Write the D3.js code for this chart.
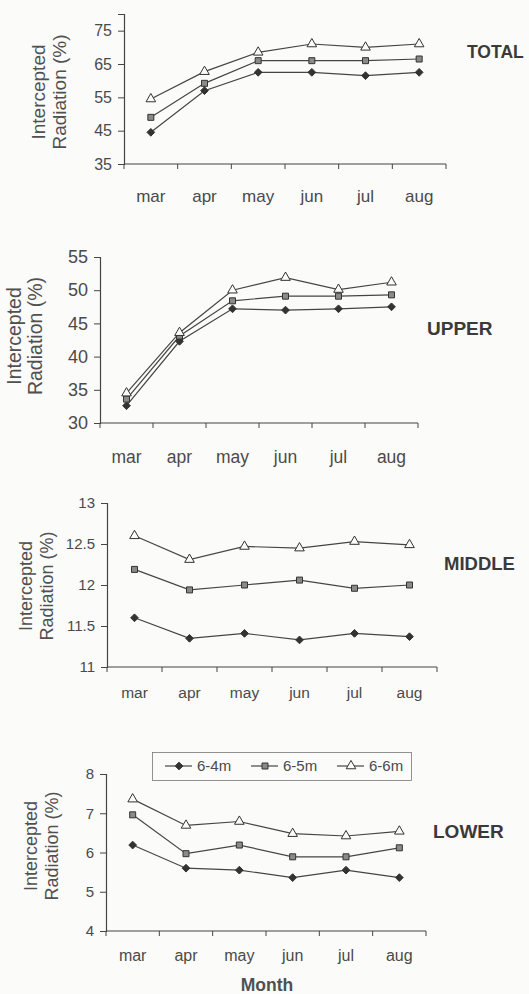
<!DOCTYPE html>
<html>
<head>
<meta charset="utf-8">
<script src="https://cdn.jsdelivr.net/npm/d3@7"></script>
<style>
  html, body { margin: 0; padding: 0; background: #fbfbfa; }
  svg { display: block; font-family: "Liberation Sans", Arial, sans-serif; }
</style>
</head>
<body>
<svg id="chart" width="529" height="994"></svg>
<script>
// ── data ──
const months = ["mar", "apr", "may", "jun", "jul", "aug"];
const seriesNames = ["6-4m", "6-5m", "6-6m"];

const total64 = [44.5, 57.0, 62.5, 62.5, 61.5, 62.5];
const total65 = [49.0, 59.2, 66.0, 66.0, 66.0, 66.5];
const total66 = [54.5, 62.7, 68.5, 71.0, 70.0, 71.0];

const upper64 = [32.6, 42.3, 47.2, 47.0, 47.2, 47.5];
const upper65 = [33.6, 43.1, 48.4, 49.1, 49.1, 49.3];
const upper66 = [34.5, 43.6, 50.0, 51.9, 50.1, 51.2];

const middle64 = [11.60, 11.35, 11.41, 11.33, 11.41, 11.37];
const middle65 = [12.19, 11.94, 12.00, 12.06, 11.96, 12.00];
const middle66 = [12.60, 12.31, 12.47, 12.45, 12.53, 12.49];

const lower64 = [6.19, 5.60, 5.55, 5.36, 5.55, 5.36];
const lower65 = [6.96, 5.97, 6.19, 5.89, 5.89, 6.12];
const lower66 = [7.36, 6.69, 6.79, 6.48, 6.42, 6.54];

const totalTicks  = [35, 45, 55, 65, 75];
const upperTicks  = [30, 35, 40, 45, 50, 55];
const middleTicks = [11, 11.5, 12, 12.5, 13];
const lowerTicks  = [4, 5, 6, 7, 8];

// ── layout per panel ──
const panels = [
  { title: "TOTAL",  series: [total64, total65, total66],   ticks: totalTicks,  domain: [35, 80],
    x0: 124, x1: 446, yTop: 14,  yBot: 164, fs: 17, tickFs: 16, labelY: 202,
    titleX: 467, titleY: 58, titleFs: 17.5, ylx: 45, yly: 92, ylFs: 19 },
  { title: "UPPER",  series: [upper64, upper65, upper66],   ticks: upperTicks,  domain: [30, 55],
    x0: 100, x1: 418, yTop: 257, yBot: 423, fs: 17.5, tickFs: 18, labelY: 463,
    titleX: 427, titleY: 335, titleFs: 19, ylx: 21, yly: 336, ylFs: 19.5 },
  { title: "MIDDLE", series: [middle64, middle65, middle66], ticks: middleTicks, domain: [11, 13],
    x0: 107, x1: 437, yTop: 503, yBot: 667, fs: 15.5, tickFs: 15, labelY: 698,
    titleX: 444, titleY: 570, titleFs: 18.5, ylx: 32, yly: 586, ylFs: 18 },
  { title: "LOWER",  series: [lower64, lower65, lower66],   ticks: lowerTicks,  domain: [4, 8],
    x0: 106, x1: 426, yTop: 774, yBot: 931, fs: 16, tickFs: 15, labelY: 961,
    titleX: 433, titleY: 838, titleFs: 19, ylx: 37, yly: 846, ylFs: 18 }
];

const ink = "#454545";
const svg = d3.select("#chart");

// square-on-point diamond, same proportions as the spreadsheet marker
const diamond = {
  draw(ctx, size) {
    const r = Math.sqrt(size / 2);
    ctx.moveTo(0, -r); ctx.lineTo(r, 0); ctx.lineTo(0, r); ctx.lineTo(-r, 0); ctx.closePath();
  }
};

const symbols = [
  { type: diamond,          size: 30, fill: "#333" },
  { type: d3.symbolSquare,  size: 36, fill: "#8a8a8a" },
  { type: d3.symbolTriangle, size: 40, fill: "#fbfbfa" }
];

const drawMarker = (g, i, x, y) => {
  const s = symbols[i];
  g.append("path")
    .attr("d", d3.symbol().type(s.type).size(s.size)())
    .attr("transform", `translate(${x},${y})`)
    .attr("fill", s.fill)
    .attr("stroke", "#333")
    .attr("stroke-width", 1);
};

panels.forEach((p) => {
  const g = svg.append("g");
  const x = d3.scaleBand().domain(months).range([p.x0, p.x1]).padding(0);
  const y = d3.scaleLinear().domain(p.domain).range([p.yBot, p.yTop]);

  // y axis
  const yAxis = d3.axisLeft(y).tickValues(p.ticks).tickSize(6).tickPadding(6)
    .tickFormat((d) => String(d));
  const ya = g.append("g").attr("transform", `translate(${p.x0},0)`).call(yAxis);
  ya.select(".domain").attr("stroke", ink).attr("stroke-width", 1.2);
  ya.selectAll(".tick line").attr("stroke", ink);
  ya.selectAll("text").attr("fill", "#4a4a4a").attr("font-size", p.tickFs);

  // x axis: ticks between categories, labels at centres
  g.append("line")
    .attr("x1", p.x0).attr("x2", p.x1).attr("y1", p.yBot).attr("y2", p.yBot)
    .attr("stroke", ink).attr("stroke-width", 1.2);
  const bounds = months.map((m) => x(m)).concat([p.x1]);
  g.selectAll(".xt").data(bounds).join("line")
    .attr("x1", (d) => d).attr("x2", (d) => d)
    .attr("y1", p.yBot).attr("y2", p.yBot + 5)
    .attr("stroke", ink);
  g.selectAll(".xl").data(months).join("text")
    .attr("x", (d) => x(d) + x.bandwidth() / 2)
    .attr("y", p.labelY)
    .attr("text-anchor", "middle")
    .attr("font-size", p.fs)
    .attr("fill", "#4a4a4a")
    .text((d) => d);

  // y label (two lines)
  const yl = g.append("text")
    .attr("transform", `translate(${p.ylx},${p.yly}) rotate(-90)`)
    .attr("text-anchor", "middle")
    .attr("font-size", p.ylFs)
    .attr("fill", "#505050");
  yl.append("tspan").attr("x", 0).attr("dy", 0).text("Intercepted");
  yl.append("tspan").attr("x", 0).attr("dy", 20.5).text("Radiation (%)");

  // title
  g.append("text")
    .attr("x", p.titleX).attr("y", p.titleY)
    .attr("font-size", p.titleFs).attr("font-weight", "bold").attr("fill", "#3a3a3a")
    .text(p.title);

  // series
  const line = d3.line()
    .x((d, i) => x(months[i]) + x.bandwidth() / 2)
    .y((d) => y(d));
  p.series.forEach((vals) => {
    g.append("path").datum(vals)
      .attr("d", line)
      .attr("fill", "none")
      .attr("stroke", ink)
      .attr("stroke-width", 1.2);
  });
  p.series.forEach((vals, si) => {
    vals.forEach((v, i) => drawMarker(g, si, x(months[i]) + x.bandwidth() / 2, y(v)));
  });
});

// legend (in LOWER panel)
const lg = svg.append("g");
lg.append("rect")
  .attr("x", 152.5).attr("y", 752.5).attr("width", 259).attr("height", 28)
  .attr("fill", "none").attr("stroke", "#777").attr("stroke-width", 0.8);
const legendX = d3.scalePoint().domain(seriesNames).range([165, 337]);
seriesNames.forEach((name, i) => {
  const lx = legendX(name);
  lg.append("line").attr("x1", lx).attr("x2", lx + 27).attr("y1", 766).attr("y2", 766)
    .attr("stroke", ink).attr("stroke-width", 1.2);
  drawMarker(lg, i, lx + 14, 766);
  lg.append("text").attr("x", lx + 32).attr("y", 771)
    .attr("font-size", 15).attr("fill", "#4a4a4a").text(name);
});

// x title
svg.append("text")
  .attr("x", 267).attr("y", 991)
  .attr("text-anchor", "middle")
  .attr("font-size", 17.5).attr("font-weight", "bold").attr("fill", "#505050")
  .text("Month");
</script>
</body>
</html>
